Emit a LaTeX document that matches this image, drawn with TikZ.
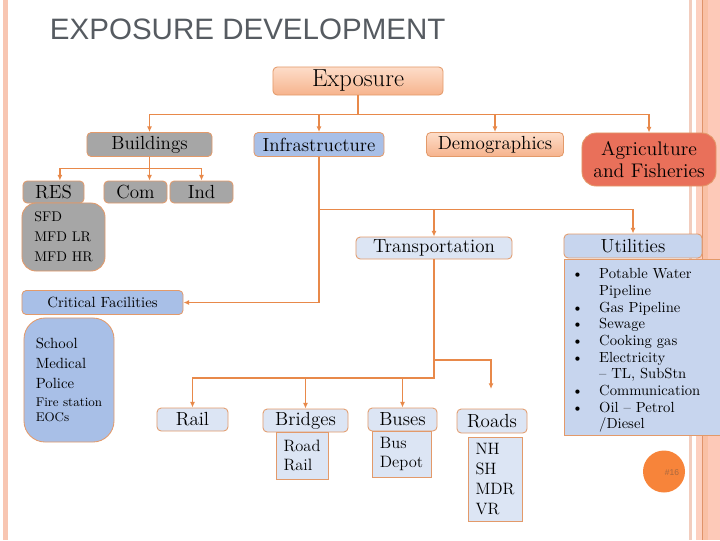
\documentclass[tikz,border=0pt]{standalone}
\usepackage{fontspec}
\newfontfamily\titlefont{Liberation Sans}
\usepackage{tikz}
\usetikzlibrary{arrows.meta}
\definecolor{linkorange}{HTML}{E8894A}
\definecolor{edgeorange}{HTML}{E39A6A}
\definecolor{peachtop}  {HTML}{FDDDC9}
\definecolor{peachbot}  {HTML}{F6B38D}
\definecolor{bldgray}   {HTML}{A6A6A6}
\definecolor{infblue}   {HTML}{A8BFE7}
\definecolor{utilblue}  {HTML}{C7D5EE}
\definecolor{paleblue}  {HTML}{DCE5F4}
\definecolor{agrred}    {HTML}{E9705A}
\definecolor{titlegray} {HTML}{565B61}
\definecolor{stripeA}   {HTML}{F8C6B2}
\definecolor{stripeB}   {HTML}{F2CDBE}
\definecolor{stripeC}   {HTML}{FDD0C0}
\definecolor{stripeD}   {HTML}{E0936A}
\definecolor{stripeE}   {HTML}{F9C0A5}
\definecolor{stripeF}   {HTML}{FDC9B8}
\definecolor{pagedot}   {HTML}{F7843A}
\definecolor{pagetext}  {HTML}{A8683F}

\begin{document}
\begin{tikzpicture}[
  x=0.025cm, y=-0.025cm,
  box/.style={draw=edgeorange,line width=0.6pt,rounded corners=3pt,
              inner sep=0pt,align=center},
  peach/.style={box,top color=peachtop,bottom color=peachbot},
  grey/.style={box,fill=bldgray},
  blue/.style={box,fill=infblue},
  pale/.style={box,fill=paleblue},
  sub/.style={draw=edgeorange,line width=0.6pt,fill=paleblue,
              inner sep=0pt,align=left,font=\fontsize{11.7}{13.6}\selectfont},
  big/.style={font=\fontsize{13.5}{15.5}\selectfont},
  arr/.style={-{Latex[length=4pt,width=3.5pt]},draw=linkorange,line width=1.1pt}
]
\useasboundingbox (0,0) rectangle (720,540);

% slide border
\fill[stripeA] (3,0)   rectangle (8,540);
\fill[stripeB] (689,0) rectangle (692,540);
\fill[stripeC] (696,0) rectangle (702,540);
\fill[stripeD] (702,0) rectangle (703,540);
\fill[stripeE] (703,0) rectangle (708,540);
\fill[stripeF] (708,0) rectangle (720,540);

\node[anchor=base west,text=titlegray,
      font=\titlefont\fontsize{21}{25}\selectfont] (title) at (45,39)
  {EXPOSURE DEVELOPMENT};

% top level
\node[peach,minimum width=4.25cm,minimum height=0.7cm,
      font=\fontsize{17.5}{20}\selectfont] (exp) at (358,81) {Exposure};

\node[grey,big,minimum width=3.125cm,minimum height=0.6cm] (bld) at (149.5,144.5) {Buildings};
\node[blue,big,minimum width=3.25cm, minimum height=0.6cm] (inf) at (319,144.5)   {Infrastructure};
\node[peach,big,minimum width=3.425cm,minimum height=0.6cm](dem) at (495,144.5)   {Demographics};
\node[box,fill=agrred,rounded corners=10pt,minimum width=3.35cm,minimum height=1.325cm,
      font=\fontsize{14}{15.6}\selectfont] (agr) at (649,159.5) {Agriculture\\and Fisheries};

% buildings
\node[grey,big,minimum width=1.525cm,minimum height=0.55cm] (res) at (53.5,192)  {RES};
\node[grey,big,minimum width=1.575cm,minimum height=0.55cm] (com) at (135.5,192) {Com};
\node[grey,big,minimum width=1.575cm,minimum height=0.55cm] (ind) at (201.5,192) {Ind};
\node[grey,align=left,rounded corners=10pt,minimum width=2.075cm,minimum height=1.7cm,
      font=\fontsize{10}{14.2}\selectfont] (sfd) at (63.5,237) {SFD\\MFD LR\\MFD HR};

% critical facilities
\node[blue,minimum width=4.025cm,minimum height=0.6cm,
      font=\fontsize{10.5}{12}\selectfont] (crit) at (102.5,302.5) {Critical Facilities};
\node[blue,align=left,rounded corners=15pt,minimum width=2.25cm,minimum height=3.1cm,
      font=\fontsize{10.5}{14.2}\selectfont] (school) at (69,380)
  {School\\Medical\\Police\\[-1.5pt]{\fontsize{9}{11}\selectfont Fire station}\\[-3pt]{\fontsize{9}{11}\selectfont EOCs}};

% transportation
\node[pale,big,minimum width=3.9cm,minimum height=0.55cm] (trans) at (434,248) {Transportation};
\node[pale,big,minimum width=1.775cm,minimum height=0.575cm] (rail)    at (192.5,419.5) {Rail};
\node[pale,big,minimum width=2.125cm,minimum height=0.575cm] (bridges) at (305.5,420.5) {Bridges};
\node[pale,big,minimum width=1.725cm,minimum height=0.575cm] (buses)   at (402.5,419.5) {Buses};
\node[pale,big,minimum width=1.75cm, minimum height=0.6cm]   (roads)   at (492,421)     {Roads};
\node[sub,minimum width=1.3cm, minimum height=1.175cm] (brsub)   at (302,455.5)   {Road\\Rail};
\node[sub,minimum width=1.475cm,minimum height=1.15cm] (bussub)  at (401.5,454)   {Bus\\Depot};
\node[sub,minimum width=1.35cm,minimum height=2.1cm,
      font=\fontsize{11.7}{14.2}\selectfont]          (roadsub) at (495,479)     {NH\\SH\\MDR\\VR};
\coordinate (rdtip) at (491,389);

% utilities
\node[box,fill=utilblue,big,minimum width=3.45cm,minimum height=0.6cm] (util) at (633,246) {Utilities};
\node[draw=edgeorange,line width=0.6pt,fill=utilblue,anchor=north west,
      minimum width=3.9cm,minimum height=4.4cm] (ulist) at (564,259) {};
\node[anchor=north west,inner sep=0pt,font=\fontsize{10.4}{11.85}\selectfont] (utext) at (571.5,267)
  {\begin{tabular}{@{}l@{\hspace{11.4pt}}l@{}}
   \textbullet & Potable Water\\
               & Pipeline\\
   \textbullet & Gas Pipeline\\
   \textbullet & Sewage\\
   \textbullet & Cooking gas\\
   \textbullet & Electricity\\
               & -- TL, SubStn\\
   \textbullet & Communication\\
   \textbullet & Oil -- Petrol\\
               & /Diesel
   \end{tabular}};

% page number
\node[circle,fill=pagedot,minimum size=1.05cm] (pgdot) at (664,471.5) {};
\node[text=pagetext,font=\titlefont\fontsize{6}{7}\selectfont] (pgnum) at (672,473) {\#16};

% connectors
\foreach \n in {bld,inf,dem,agr}
  \draw[arr] (exp.south) -- ++(0,19) -| (\n.north);
\draw[arr] (bld.south) -- ++(0,11.5) -| ([xshift=0.16cm]res.north);
\draw[arr] (bld.south) -- (bld.south |- com.north);
\draw[arr] (bld.south) -- ++(0,11.5) -| (ind.north);
\draw[arr] (inf.south) |- (crit.east);
\draw[arr] (inf.south) -- ++(0,52.5) -| (trans.north);
\draw[arr] (inf.south) -- ++(0,52.5) -| (util.north);
\foreach \n in {rail,bridges,buses}
  \draw[arr] (trans.south) -- ++(0,118.5) -| (\n.north);
\draw[arr] (trans.south) -- ++(0,100.5) -| (rdtip);
\end{tikzpicture}
\end{document}
